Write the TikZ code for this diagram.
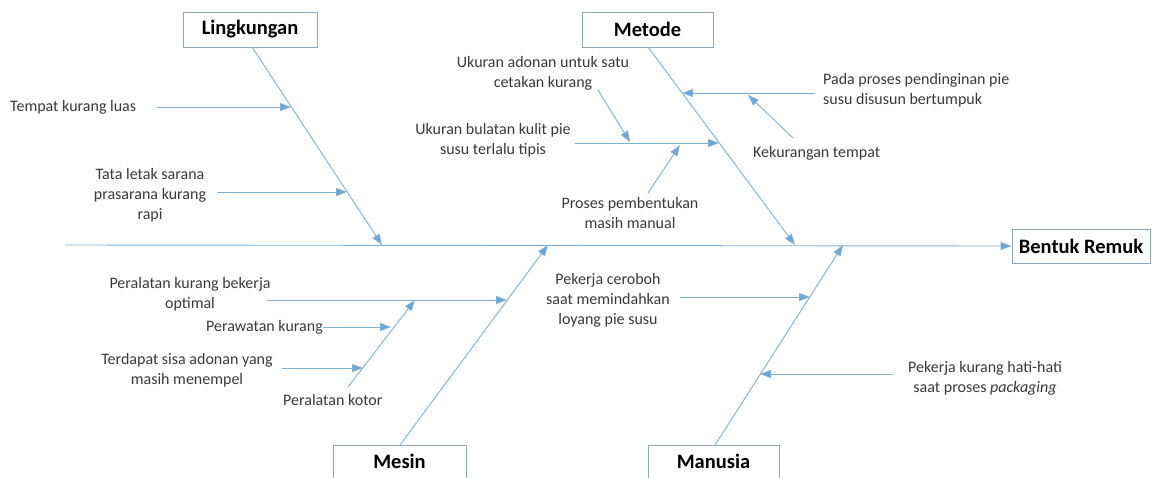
\documentclass[tikz,border=0pt]{standalone}
\usepackage{fontspec}
\setmainfont{Carlito}
\usetikzlibrary{arrows.meta}
\definecolor{bone}{HTML}{7FB0D6}
\definecolor{tipc}{HTML}{6AA6D6}
\definecolor{boxc}{HTML}{8FA8BE}
\definecolor{txt}{HTML}{3A3A3A}
\begin{document}
\begin{tikzpicture}[x=1pt,y=-1pt,
  line/.style={draw=bone,line width=0.9pt},
  arr/.style={line,-{Triangle[length=11pt,width=8pt,fill=tipc]}},
  catfont/.style={font=\fontsize{20.5}{24}\selectfont\bfseries},
  cat/.style={draw=boxc,line width=0.9pt,fill=white,text=black,catfont,inner sep=0pt},
  lbl/.style={text=txt,font=\fontsize{16}{20}\selectfont,align=center,inner sep=0pt},
  lbll/.style={lbl,align=left}]
\clip (0,0) rectangle (1155,477);
\fill[white] (0,0) rectangle (1155,477);

% category boxes
\node[cat,minimum width=134pt,minimum height=35pt] (ling) at (250,29.5) {Lingkungan};
\node[cat,minimum width=131pt,minimum height=35pt] (met) at (647.5,29.5) {Metode};
\node[cat,minimum width=133pt,minimum height=50pt] (mes) at (399.5,470) {};
\node[catfont,inner sep=0pt] (mest) at (399.5,461) {Mesin};
\node[cat,minimum width=131pt,minimum height=50pt] (man) at (713.5,470) {};
\node[catfont,inner sep=0pt] (mant) at (713.5,461) {Manusia};
\node[cat,minimum width=138pt,minimum height=34pt] (eff) at (1081,246) {Bentuk Remuk};

% spine
\coordinate (s0) at (65,245);
\draw[arr] (s0) -- (eff.west);

% main bones
\coordinate (lingE) at (382,245);
\coordinate (metE) at (795,245);
\coordinate (mesE) at (548,245);
\coordinate (manE) at (843,245);
\coordinate (lingS) at (252,47);
\coordinate (metS) at (648,47);
\coordinate (mesS) at (400,445);
\coordinate (manS) at (715,445);
\draw[arr] (lingS) -- (lingE);
\draw[arr] (metS) -- (metE);
\draw[arr] (mesS) -- (mesE);
\draw[arr] (manS) -- (manE);

% Lingkungan causes
\node[lbl,anchor=west] (l1) at (10,107) {Tempat kurang luas};
\coordinate (l1a) at (157,107); \coordinate (l1b) at (291,107);
\draw[arr] (l1a) -- (l1b);
\node[lbl] (l2) at (150,195) {Tata letak sarana\\prasarana kurang\\rapi};
\coordinate (l2a) at (217,192); \coordinate (l2b) at (347,192);
\draw[arr] (l2a) -- (l2b);

% Metode causes
\node[lbl] (m1) at (543,73) {Ukuran adonan untuk satu\\cetakan kurang};
\coordinate (m1a) at (598,90); \coordinate (m1b) at (630,142);
\draw[arr] (m1a) -- (m1b);
\node[lbl] (m2) at (493,140) {Ukuran bulatan kulit pie\\susu terlalu tipis};
\coordinate (m2a) at (575,143); \coordinate (m2b) at (719,143);
\draw[arr] (m2a) -- (m2b);
\node[lbl] (m3) at (630,213) {Proses pembentukan\\masih manual};
\coordinate (m3a) at (648,193); \coordinate (m3b) at (680,145);
\draw[arr] (m3a) -- (m3b);
\node[lbll,anchor=west] (m4) at (823,90) {Pada proses pendinginan pie\\susu disusun bertumpuk};
\coordinate (m4a) at (815,93); \coordinate (m4b) at (682,93);
\draw[arr] (m4a) -- (m4b);
\node[lbl,anchor=west] (m5) at (753,153) {Kekurangan tempat};
\coordinate (m5a) at (793,138); \coordinate (m5b) at (748,95);
\draw[arr] (m5a) -- (m5b);

% Mesin causes
\node[lbl] (e1) at (190,294) {Peralatan kurang bekerja\\optimal};
\coordinate (e1a) at (267,300); \coordinate (e1b) at (507,300);
\draw[arr] (e1a) -- (e1b);
\coordinate (e4a) at (348,387); \coordinate (e4b) at (415,300);
\draw[arr] (e4a) -- (e4b);
\node[lbl,anchor=west] (e4) at (283,400) {Peralatan kotor};
\node[lbl,anchor=east] (e2) at (323,327) {Perawatan kurang};
\coordinate (e2b) at (391,327);
\draw[arr] (e2.east) -- (e2b);
\node[lbl] (e3) at (187,370) {Terdapat sisa adonan yang\\masih menempel};
\coordinate (e3a) at (282,368); \coordinate (e3b) at (363,368);
\draw[arr] (e3a) -- (e3b);

% Manusia causes
\node[lbl] (h1) at (608,300) {Pekerja ceroboh\\saat memindahkan\\loyang pie susu};
\coordinate (h1a) at (680,297); \coordinate (h1b) at (810,297);
\draw[arr] (h1a) -- (h1b);
\node[lbl] (h2) at (985,378) {Pekerja kurang hati-hati\\saat proses \textit{packaging}};
\coordinate (h2a) at (893,374); \coordinate (h2b) at (760,374);
\draw[arr] (h2a) -- (h2b);
\end{tikzpicture}
\end{document}
